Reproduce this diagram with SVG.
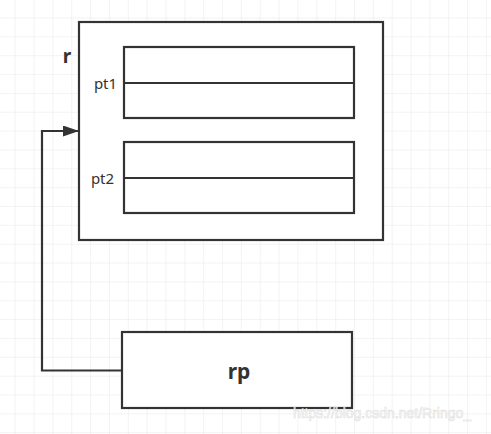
<svg xmlns="http://www.w3.org/2000/svg" width="491" height="434" viewBox="0 0 491 434">
<defs>
<pattern id="grid" x="14.7" y="17.5" width="18.85" height="18.85" patternUnits="userSpaceOnUse">
<path d="M0 0V18.85M0 0H18.85" fill="none" stroke="#e8e8e8" stroke-width="1"/>
</pattern>
<marker id="arr" markerWidth="16" markerHeight="11" refX="16" refY="5.5" orient="auto" markerUnits="userSpaceOnUse">
<path d="M0 0L16 5.5L0 11Z" fill="#333"/>
</marker>
<style>
.box{fill:#fff;stroke:#333;stroke-width:2.2}
.ln{stroke:#333;stroke-width:2.2;fill:none}
.lbl{font-family:"Noto Sans","Open Sans",sans-serif;fill:#333}
</style>
</defs>
<rect width="491" height="434" fill="#fff"/>
<rect width="491" height="434" fill="url(#grid)"/>
<g id="r">
<rect class="box" x="79" y="22" width="304" height="218"/>
<text class="lbl" x="67" y="63" font-size="19" font-weight="bold" text-anchor="middle">r</text>
</g>
<g id="pt1">
<rect class="box" x="124" y="47" width="230" height="71"/>
<line class="ln" x1="124" y1="83" x2="354" y2="83"/>
<text class="lbl" x="105.5" y="89" font-size="15" text-anchor="middle" fill="#444">pt1</text>
</g>
<g id="pt2">
<rect class="box" x="124" y="142" width="230" height="71"/>
<line class="ln" x1="124" y1="178" x2="354" y2="178"/>
<text class="lbl" x="102.5" y="184" font-size="15" text-anchor="middle" fill="#444">pt2</text>
</g>
<g id="rp">
<rect class="box" x="122" y="332" width="230" height="76"/>
<text class="lbl" x="239" y="379" font-size="21" font-weight="bold" text-anchor="middle">rp</text>
</g>
<g id="connectors">
<path class="ln" d="M122 370.5H42V131H79" marker-end="url(#arr)"/>
</g>
<text x="382" y="418" font-family="'Liberation Sans',Arial,sans-serif" font-size="14" fill="#fff" stroke="#ddd" stroke-width="0.6" text-anchor="middle" opacity="0.9">https://blog.csdn.net/Rringo_</text>
</svg>
